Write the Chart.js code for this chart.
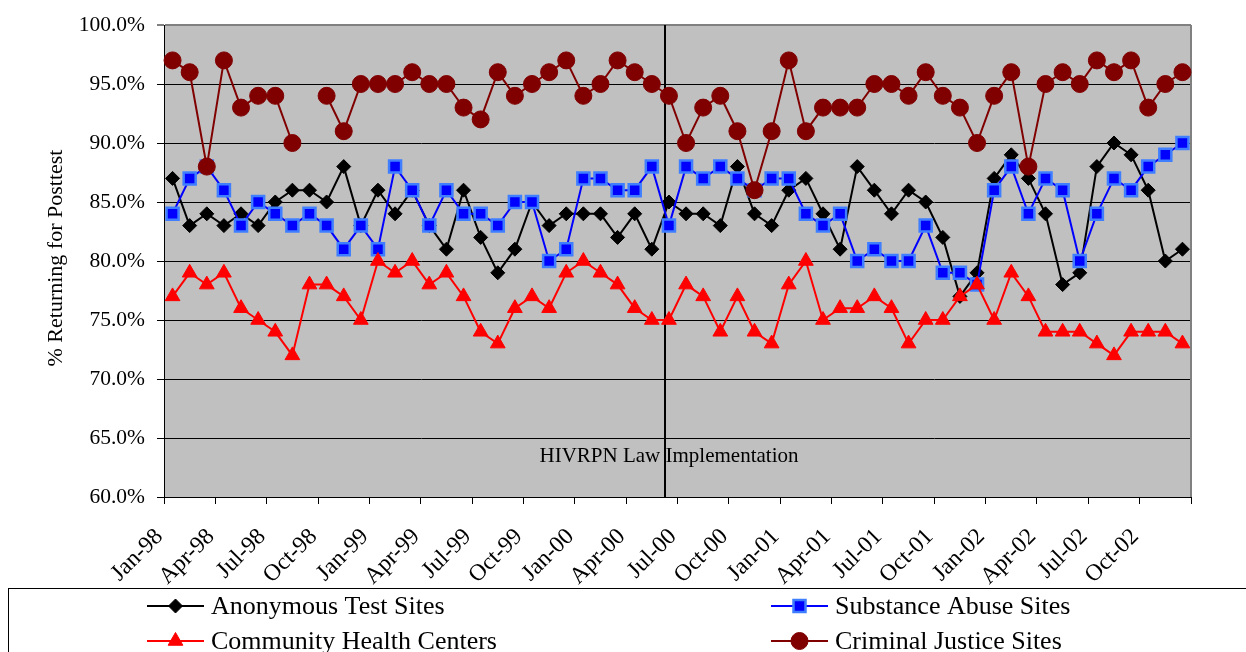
<!DOCTYPE html>
<html>
<head>
<meta charset="utf-8">
<script src="https://cdn.jsdelivr.net/npm/chart.js@4.4.1/dist/chart.umd.min.js"></script>
<style>
  html, body { margin: 0; padding: 0; background: #fff; }
</style>
</head>
<body>
<canvas id="chart" width="1246" height="652"></canvas>
<script>
const months = [
  "Jan-98","Feb-98","Mar-98","Apr-98","May-98","Jun-98","Jul-98","Aug-98","Sep-98","Oct-98","Nov-98","Dec-98",
  "Jan-99","Feb-99","Mar-99","Apr-99","May-99","Jun-99","Jul-99","Aug-99","Sep-99","Oct-99","Nov-99","Dec-99",
  "Jan-00","Feb-00","Mar-00","Apr-00","May-00","Jun-00","Jul-00","Aug-00","Sep-00","Oct-00","Nov-00","Dec-00",
  "Jan-01","Feb-01","Mar-01","Apr-01","May-01","Jun-01","Jul-01","Aug-01","Sep-01","Oct-01","Nov-01","Dec-01",
  "Jan-02","Feb-02","Mar-02","Apr-02","May-02","Jun-02","Jul-02","Aug-02","Sep-02","Oct-02","Nov-02","Dec-02"
];

const anonymous = [87,83,84,83,84,83,85,86,86,85,88,83, 86,84,86,83,81,86,82,79,81,85,83,84,
                   84,84,82,84,81,85,84,84,83,88,84,83, 86,87,84,81,88,86,84,86,85,82,77,79,
                   87,89,87,84,78,79,88,90,89,86,80,81];
const substance = [84,87,88,86,83,85,84,83,84,83,81,83, 81,88,86,83,86,84,84,83,85,85,80,81,
                   87,87,86,86,88,83,88,87,88,87,86,87, 87,84,83,84,80,81,80,80,83,79,79,78,
                   86,88,84,87,86,80,84,87,86,88,89,90];
const community = [77,79,78,79,76,75,74,72,78,78,77,75, 80,79,80,78,79,77,74,73,76,77,76,79,
                   80,79,78,76,75,75,78,77,74,77,74,73, 78,80,75,76,76,77,76,73,75,75,77,78,
                   75,79,77,74,74,74,73,72,74,74,74,73];
const criminal  = [97,96,88,97,93,94,94,90,null,94,91,95, 95,95,96,95,95,93,92,96,94,95,96,97,
                   94,95,97,96,95,94,90,93,94,91,86,91, 97,91,93,93,93,95,95,94,96,94,93,90,
                   94,96,88,95,96,95,97,96,97,93,95,96];

const seriesNames = ["Anonymous Test Sites", "Substance Abuse Sites", "Community Health Centers", "Criminal Justice Sites"];
const yTitle = "% Returning for Posttest";
const lawText = "HIVRPN Law Implementation";
const lawIndex = 28.75;   // just before the Jun-00 point

const serif = '"Liberation Serif", "Times New Roman", serif';

const datasets = [
  { label: seriesNames[0], data: anonymous, borderColor: "#000000", backgroundColor: "#000000",
    pointStyle: "rectRot", pointRadius: 7, pointBorderWidth: 1, order: 4 },
  { label: seriesNames[1], data: substance, borderColor: "#0000FF", backgroundColor: "#0000FF",
    pointBorderColor: "#3F7FFF", pointStyle: "rect", pointRadius: 8.5, pointBorderWidth: 2.5, order: 3 },
  { label: seriesNames[2], data: community, borderColor: "#FF0000", backgroundColor: "#FF0000",
    pointStyle: "triangle", pointRadius: 8.5, pointBorderWidth: 1, order: 2 },
  { label: seriesNames[3], data: criminal, borderColor: "#800000", backgroundColor: "#800000",
    pointStyle: "circle", pointRadius: 8.5, pointBorderWidth: 1, order: 1 }
];
datasets.forEach(d => {
  d.borderWidth = 2;
  d.tension = 0;
  d.spanGaps = false;
  d.pointHoverRadius = d.pointRadius;
  if (!d.pointBorderColor) d.pointBorderColor = d.borderColor;
});

const extras = {
  id: "extras",
  beforeDraw(chart) {
    const { ctx, chartArea: a } = chart;
    ctx.save();
    ctx.fillStyle = "#C0C0C0";
    ctx.fillRect(a.left, a.top, a.right - a.left, a.bottom - a.top);
    ctx.restore();
  },
  beforeDatasetsDraw(chart) {
    const { ctx, chartArea: a, scales: { x, y } } = chart;
    const lx = Math.round(x.getPixelForValue(lawIndex));
    ctx.save();
    // right border of plot area
    ctx.strokeStyle = "#808080";
    ctx.lineWidth = 2;
    ctx.beginPath();
    ctx.moveTo(a.right, a.top);
    ctx.lineTo(a.right, a.bottom);
    ctx.stroke();
    // annotation text
    ctx.fillStyle = "#000";
    ctx.font = "21px " + serif;
    ctx.textAlign = "center";
    ctx.textBaseline = "middle";
    ctx.fillText(lawText, lx + 4, y.getPixelForValue(63.4));
    // law line
    ctx.strokeStyle = "#000";
    ctx.lineWidth = 2;
    ctx.beginPath();
    ctx.moveTo(lx, a.top);
    ctx.lineTo(lx, a.bottom);
    ctx.stroke();
    ctx.restore();
  },
  afterDraw(chart) {
    const { ctx } = chart;
    ctx.save();
    // y axis title
    ctx.fillStyle = "#000";
    ctx.font = "22px " + serif;
    ctx.textAlign = "center";
    ctx.textBaseline = "middle";
    ctx.translate(56, 258);
    ctx.rotate(-Math.PI / 2);
    ctx.fillText(yTitle, 0, 0);
    ctx.restore();

    // legend
    ctx.save();
    ctx.strokeStyle = "#000";
    ctx.lineWidth = 1;
    ctx.strokeRect(8.5, 588.5, 1400, 200);
    const slots = [[147, 606], [771, 606], [147, 641], [771, 641]];
    chart.data.datasets.forEach((d, i) => {
      const [lx, ly] = slots[i];
      ctx.strokeStyle = d.borderColor;
      ctx.lineWidth = 2;
      ctx.beginPath();
      ctx.moveTo(lx, ly);
      ctx.lineTo(lx + 57, ly);
      ctx.stroke();
      ctx.fillStyle = d.backgroundColor;
      ctx.strokeStyle = d.pointBorderColor;
      ctx.lineWidth = d.pointBorderWidth;
      Chart.helpers.drawPoint(ctx, { pointStyle: d.pointStyle, radius: d.pointRadius, rotation: 0, borderWidth: d.pointBorderWidth }, lx + 28.5, ly);
      ctx.fillStyle = "#000";
      ctx.font = "26px " + serif;
      ctx.textAlign = "left";
      ctx.textBaseline = "middle";
      ctx.fillText(d.label, lx + 64, ly + 1);
    });
    ctx.restore();
  }
};

new Chart(document.getElementById("chart"), {
  type: "line",
  data: { labels: months, datasets: datasets },
  plugins: [extras],
  options: {
    responsive: false,
    animation: false,
    devicePixelRatio: 1,
    layout: { padding: { top: 25, right: 55, left: 0, bottom: 0 } },
    plugins: { legend: { display: false }, tooltip: { enabled: false } },
    scales: {
      x: {
        type: "category",
        offset: true,
        grid: {
          offset: true,
          drawOnChartArea: false,
          drawTicks: true,
          tickLength: 7,
          color: c => (c.index === undefined || c.index % 3 === 0) ? "#000" : "rgba(0,0,0,0)"
        },
        border: { color: "#000", width: 1 },
        ticks: {
          autoSkip: false,
          minRotation: 45,
          maxRotation: 45,
          padding: 19,
          labelOffset: -13,
          color: "#000",
          font: { family: serif, size: 23.5 },
          callback: function (v, i) { return i % 3 === 0 ? this.getLabelForValue(v) : ""; }
        },
        afterFit(s) { s.height = 155; }
      },
      y: {
        min: 60,
        max: 100,
        grid: {
          color: c => (c.tick && c.tick.value === 100) ? "#808080" : "#000",
          tickLength: 7,
          lineWidth: c => (c.tick && c.tick.value === 100) ? 2 : 1
        },
        border: { color: "#000", width: 1 },
        ticks: {
          stepSize: 5,
          padding: 12,
          color: "#000",
          font: { family: serif, size: 21.5 },
          callback: v => v.toFixed(1) + "%"
        },
        afterFit(s) { s.width = 164; }
      }
    }
  }
});
</script>
</body>
</html>
